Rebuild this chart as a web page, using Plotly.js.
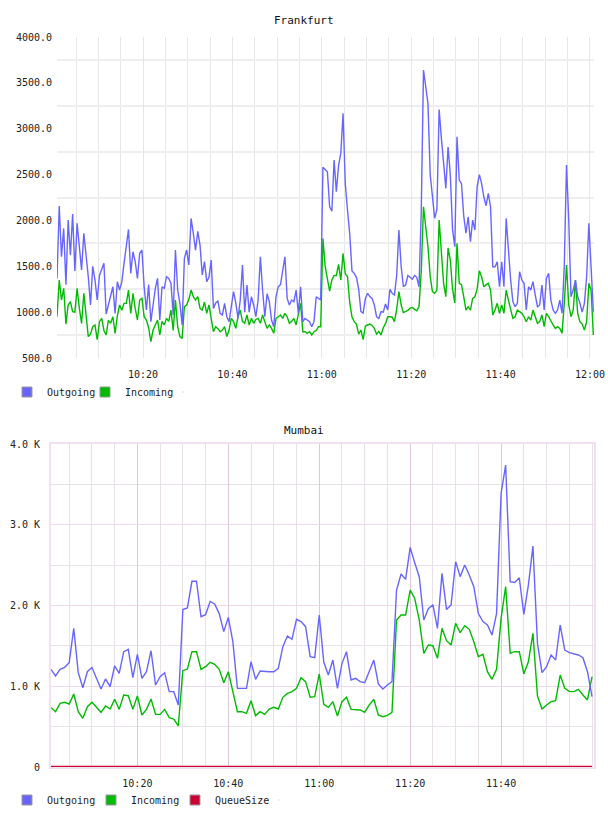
<!DOCTYPE html>
<html>
<head>
<meta charset="utf-8">
<script src="https://cdn.plot.ly/plotly-3.0.1.min.js"></script>
<style>
  html, body { margin: 0; padding: 0; background: #ffffff; }
  #chart { width: 608px; height: 816px; }
</style>
</head>
<body>
<div id="chart"></div>
<script>
// ---------- Frankfurt: 30 s samples ----------
const fraStart = '2024-01-01 10:00:45';
const fraStepSec = 30;

const fraOutgoing = [
  1368, 2157, 1604, 1913, 1300, 2004, 1622, 2070, 1450, 1968,
  1713, 1459, 1859, 1650, 1386, 1078, 1500, 1350, 1132, 1400,
  1477, 1532, 980, 1078, 1205, 1277, 987, 1332, 1241, 1330,
  1532, 1695, 1902, 1423, 1659, 1550, 1368, 1641, 1677, 1277,
  1023, 1300, 896, 1078, 1259, 1368, 914, 1277, 1259, 1386,
  1368, 1314, 969, 1677, 1241, 1096, 860, 1586, 1677, 1514,
  2022, 1859,
  1677, 1880, 1731, 1405, 1550, 1332, 1380, 1568, 1041, 1100,
  1120, 987, 969, 1096, 950, 896, 1059, 1223, 1100, 932,
  1132, 1514, 1000, 1296, 1000, 1168, 1078, 950, 1132, 1604,
  1241, 950, 1200, 1114, 914, 841, 1168, 1277, 1300, 1459,
  1604, 1150, 1078, 1132, 1114, 1241, 987, 1277, 896, 932,
  914, 896, 841, 896, 1168, 1150, 1132, 2580,
  2549, 2530, 2150, 2100, 2658, 2313, 2600, 2731, 3167, 2400,
  2113, 1850, 1450, 1423, 1380, 1250, 1005, 990, 1150, 1205,
  1170, 1150, 1078, 950, 930, 1005, 1000, 1090, 1023, 1250,
  1205, 1187, 1400, 1895, 1500, 1277, 1296, 1400, 1380, 1360,
  1400, 1380, 1277, 2100, 3640, 3460, 3276, 2500, 2222, 2022,
  2120, 3210, 2900, 2658, 2350, 2800, 2500, 1900, 1713, 2912,
  2440, 2400, 2050,
  1860, 2040, 1768, 2004, 1895, 2367, 2500, 2404, 2258, 2160,
  2295, 2149, 1495, 1495, 1550, 1277, 1550, 1277, 2022, 1641,
  1350, 1114, 1059, 1096, 1441, 1350, 1314, 1023, 1277, 1241,
  1332, 1187, 1059, 1078, 1296, 1023, 1368, 1423, 1132, 1023,
  987, 1023, 1132, 987, 1500, 2604, 2000, 1168, 1241, 1350,
  1168, 1100, 1000, 1096, 1386, 1968, 1500, 1005
];

const fraIncoming = [
  950, 1350, 1132, 1259, 870, 1078, 1114, 1005, 1000, 1259,
  1041, 878, 1205, 950, 733, 760, 841, 860, 700, 896,
  932, 800, 751, 914, 878, 950, 769, 960, 1078, 1020,
  1096, 1096, 1241, 987, 1205, 1040, 914, 1132, 1150, 950,
  914, 830, 678, 805, 860, 914, 751, 900, 860, 932,
  900, 1023, 800, 1132, 841, 733, 714, 1059, 1078, 1140,
  1241, 1168,
  1132, 1170, 1041, 1023, 1110, 987, 1080, 950, 787, 841,
  820, 787, 805, 841, 733, 805, 932, 896, 823, 950,
  1023, 896, 878, 969, 860, 932, 878, 920, 932, 878,
  969, 896, 823, 860, 823, 769, 932, 950, 969, 932,
  987, 950, 878, 900, 932, 860, 969, 1096, 787, 787,
  769, 787, 751, 787, 800, 841, 841, 1804,
  1500, 1370, 1230, 1350, 1400, 1400, 1520, 1350, 1640, 1420,
  1386, 1100, 950, 896, 870, 760, 805, 700, 850, 860,
  870, 855, 823, 760, 790, 751, 830, 875, 950, 950,
  945, 896, 1030, 1223, 1080, 995, 1005, 1020, 1045, 1050,
  1030, 1015, 1060, 1450, 2149, 1950, 1713, 1390, 1223, 1205,
  1240, 2004, 1700, 1314, 1168, 1700, 1568, 1250, 1100, 1750,
  1314, 1300, 1168,
  1023, 1059, 1023, 1150, 1168, 1250, 1450, 1386, 1277, 1300,
  1314, 1241, 969, 1023, 1096, 987, 1080, 987, 1241, 1132,
  1023, 932, 950, 1023, 1005, 987, 950, 896, 950, 914,
  1023, 950, 878, 896, 969, 841, 987, 950, 896, 860,
  823, 841, 823, 769, 1096, 1514, 1078, 950, 1023, 1350,
  987, 896, 870, 805, 896, 1314, 1241, 751
];

const fraTickVals = [500, 1000, 1500, 2000, 2500, 3000, 3500, 4000];
const fraTickText = ['500.0', '1000.0', '1500.0', '2000.0', '2500.0', '3000.0', '3500.0', '4000.0'];
const fraGridVals = [750, 1250, 1750, 2250, 2750, 3250, 3750];

// ---------- Mumbai: 1 min samples ----------
const mumStart = '2024-01-01 10:01:00';
const mumStepSec = 60;

const mumOutgoing = [
  1209, 1127, 1209, 1234, 1292, 1717, 1168, 982, 1180, 1234,
  1098, 966, 1090, 995, 1251, 1160, 1428, 1457, 1106, 1395,
  1098, 1180, 1440, 1015, 1119, 1168, 933, 933, 768, 1950,
  1970, 2300, 2300, 1861, 1886, 2050, 2020, 1900, 1676, 1853,
  1552, 974, 974, 974, 1304, 1086, 1189, 1180, 1180, 1180,
  1222, 1490, 1622, 1581, 1828, 1800, 1738, 1366, 1354, 1882,
  1300, 1139, 1325, 974, 1284, 1428, 1077, 1098, 1057, 1044,
  1180, 1325, 1028, 966, 1015, 1057, 2191, 2390, 2323, 2720,
  2530, 2357, 1820, 1960, 2010, 1717, 2398, 1950, 2006, 2542,
  2357, 2501, 2377, 2233, 1900, 1800, 1758, 1634, 1900, 3388,
  3739, 2295, 2286, 2344, 1890, 2253, 2736, 1531, 1168, 1242,
  1387, 1325, 1758, 1449, 1416, 1399, 1387, 1354, 1180, 871
];

const mumIncoming = [
  735, 685, 788, 801, 780, 904, 685, 603, 747, 801,
  739, 677, 755, 718, 838, 714, 892, 883, 714, 879,
  644, 714, 842, 652, 652, 714, 611, 594, 508, 1193,
  1213, 1428, 1428, 1209, 1242, 1296, 1271, 1209, 1044, 1180,
  933, 685, 685, 665, 821, 636, 685, 652, 718, 739,
  718, 863, 912, 933, 974, 1106, 1057, 863, 871, 1152,
  776, 739, 809, 632, 809, 863, 714, 714, 706, 677,
  768, 838, 644, 623, 640, 677, 1820, 1882, 1882, 2191,
  2088, 1820, 1407, 1511, 1502, 1346, 1717, 1564, 1511, 1779,
  1663, 1750, 1705, 1552, 1366, 1395, 1180, 1086, 1209, 1841,
  2233, 1407, 1428, 1428, 1152, 1304, 1655, 879, 718, 768,
  809, 821, 1139, 974, 937, 933, 962, 892, 830, 1119
];

const mumQueueSize = [
  0, 0, 0, 0, 0, 0, 0, 0, 0, 0, 0, 0, 0, 0, 0, 0, 0, 0, 0, 0,
  0, 0, 0, 0, 0, 0, 0, 0, 0, 0, 0, 0, 0, 0, 0, 0, 0, 0, 0, 0,
  0, 0, 0, 0, 0, 0, 0, 0, 0, 0, 0, 0, 0, 0, 0, 0, 0, 0, 0, 0,
  0, 0, 0, 0, 0, 0, 0, 0, 0, 0, 0, 0, 0, 0, 0, 0, 0, 0, 0, 0,
  0, 0, 0, 0, 0, 0, 0, 0, 0, 0, 0, 0, 0, 0, 0, 0, 0, 0, 0, 0,
  0, 0, 0, 0, 0, 0, 0, 0, 0, 0, 0, 0, 0, 0, 0, 0, 0, 0, 0, 0
];

const mumTickVals = [0, 1000, 2000, 3000, 4000];
const mumTickText = ['0', '1.0 K', '2.0 K', '3.0 K', '4.0 K'];
const mumGridVals = [500, 1500, 2500, 3500];
const mumTimeTicks = ['2024-01-01 10:20', '2024-01-01 10:40', '2024-01-01 11:00',
                      '2024-01-01 11:20', '2024-01-01 11:40'];

// ---------- helpers ----------
function pad(n) { return (n < 10 ? '0' : '') + n; }
function sampleTimes(start, stepSec, count) {
  const parts = start.split(' ');
  const hms = parts[1].split(':').map(Number);
  const base = hms[0] * 3600 + hms[1] * 60 + hms[2];
  const out = [];
  for (let i = 0; i < count; i++) {
    const s = base + i * stepSec;
    out.push(parts[0] + ' ' + pad(Math.floor(s / 3600)) + ':' +
             pad(Math.floor((s % 3600) / 60)) + ':' + pad(s % 60));
  }
  return out;
}

const COLOR_OUT = '#6666ff';
const COLOR_IN = '#00bb00';
const COLOR_Q = '#cc0033';
const FONT = { family: 'DejaVu Sans Mono, monospace', size: 10, color: '#222222' };

const fraTimes = sampleTimes(fraStart, fraStepSec, fraOutgoing.length);
const mumTimes = sampleTimes(mumStart, mumStepSec, mumOutgoing.length);

function lineTrace(x, y, name, color, xa, ya, width) {
  return { type: 'scatter', mode: 'lines', x: x, y: y, name: name,
           xaxis: xa, yaxis: ya, showlegend: false, hoverinfo: 'skip',
           line: { color: color, width: width || 1.4 } };
}
// square colour keys shown in the legends
function legendSwatch(name, color, xa, ya, legendId) {
  return { type: 'scatter', mode: 'markers', x: [null], y: [null], name: name,
           xaxis: xa, yaxis: ya, legend: legendId, showlegend: true, hoverinfo: 'skip',
           marker: { symbol: 'square', size: 10, color: color,
                     line: { color: '#999999', width: 1 } } };
}
// empty trailing slot so the last legend label has room to finish
function legendSpacer(xa, ya, legendId) {
  return { type: 'scatter', mode: 'markers', x: [null], y: [null], name: ' ',
           xaxis: xa, yaxis: ya, legend: legendId, showlegend: true, hoverinfo: 'skip',
           marker: { size: 1, opacity: 0 } };
}

const traces = [
  lineTrace(fraTimes, fraIncoming, 'Incoming', COLOR_IN, 'x', 'y'),
  lineTrace(fraTimes, fraOutgoing, 'Outgoing', COLOR_OUT, 'x', 'y'),
  lineTrace(mumTimes, mumIncoming, 'Incoming', COLOR_IN, 'x2', 'y2'),
  lineTrace(mumTimes, mumOutgoing, 'Outgoing', COLOR_OUT, 'x2', 'y2'),
  lineTrace(mumTimes, mumQueueSize, 'QueueSize', COLOR_Q, 'x2', 'y2', 2.5),
  legendSwatch('Outgoing', COLOR_OUT, 'x', 'y', 'legend'),
  legendSwatch('Incoming', COLOR_IN, 'x', 'y', 'legend'),
  legendSpacer('x', 'y', 'legend'),
  legendSwatch('Outgoing', COLOR_OUT, 'x2', 'y2', 'legend2'),
  legendSwatch('Incoming', COLOR_IN, 'x2', 'y2', 'legend2'),
  legendSwatch('QueueSize', COLOR_Q, 'x2', 'y2', 'legend2'),
  legendSpacer('x2', 'y2', 'legend2')
];

const W = 608, H = 816;
const layout = {
  width: W, height: H,
  margin: { l: 0, r: 0, t: 0, b: 0 },
  paper_bgcolor: '#ffffff', plot_bgcolor: '#ffffff',
  font: FONT,
  showlegend: true,
  xaxis: {
    domain: [57 / W, 594 / W], anchor: 'y', type: 'date',
    range: ['2024-01-01 10:00:45', '2024-01-01 12:00:54'],
    tickmode: 'linear', tick0: '2024-01-01 10:00:00', dtick: 1200000,
    tickformat: '%H:%M', ticks: '', ticklabelstandoff: 9,
    showgrid: true, gridcolor: '#e6e6e6', gridwidth: 1,
    minor: { tickmode: 'linear', tick0: '2024-01-01 10:00:00', dtick: 300000,
             showgrid: true, gridcolor: '#e6e6e6', gridwidth: 1 },
    zeroline: false, showline: false, fixedrange: true
  },
  yaxis: {
    domain: [(H - 358) / H, (H - 37) / H], anchor: 'x',
    range: [500, 4000], tickmode: 'array', tickvals: fraTickVals, ticktext: fraTickText,
    ticks: '', ticklabelstandoff: 4, showgrid: false,
    minor: { tickmode: 'array', tickvals: fraGridVals, showgrid: true,
             gridcolor: '#eeeeee', gridwidth: 2 },
    zeroline: false, showline: false, fixedrange: true
  },
  xaxis2: {
    domain: [51 / W, 594 / W], anchor: 'y2', type: 'date',
    range: ['2024-01-01 10:01:00', '2024-01-01 12:00:26'],
    tickmode: 'array', tickvals: mumTimeTicks,
    tickformat: '%H:%M', ticks: '', ticklabelstandoff: 6,
    showgrid: true, gridcolor: '#dcc8dc', gridwidth: 1,
    minor: { tickmode: 'linear', tick0: '2024-01-01 10:00:00', dtick: 300000,
             showgrid: true, gridcolor: '#e8e2e8', gridwidth: 1 },
    zeroline: false, showline: true, mirror: true, linecolor: '#f0e0f0', linewidth: 2,
    fixedrange: true
  },
  yaxis2: {
    domain: [(H - 767) / H, (H - 444) / H], anchor: 'x2',
    range: [0, 4000], tickmode: 'array', tickvals: mumTickVals, ticktext: mumTickText,
    ticks: '', ticklabelstandoff: 7,
    showgrid: true, gridcolor: '#eed8ee', gridwidth: 1,
    minor: { tickmode: 'array', tickvals: mumGridVals, showgrid: true,
             gridcolor: '#e8e2e8', gridwidth: 1 },
    zeroline: false, showline: true, mirror: true, linecolor: '#f0e0f0', linewidth: 2,
    fixedrange: true
  },
  legend: {
    orientation: 'h', x: 7 / W, xanchor: 'left', y: 1 - 392 / H, yanchor: 'middle',
    entrywidth: 33, entrywidthmode: 'pixels',
    bgcolor: 'rgba(0,0,0,0)', borderwidth: 0, font: FONT,
    itemclick: false, itemdoubleclick: false
  },
  legend2: {
    orientation: 'h', x: 7 / W, xanchor: 'left', y: 1 - 800 / H, yanchor: 'middle',
    entrywidth: 39, entrywidthmode: 'pixels',
    bgcolor: 'rgba(0,0,0,0)', borderwidth: 0, font: FONT,
    itemclick: false, itemdoubleclick: false
  },
  annotations: [
    { text: 'Frankfurt', xref: 'paper', yref: 'paper', x: 304 / W, y: 1 - 20 / H,
      xanchor: 'center', yanchor: 'middle', showarrow: false,
      font: { family: FONT.family, size: 11, color: '#111111' } },
    { text: 'Mumbai', xref: 'paper', yref: 'paper', x: 304 / W, y: 1 - 430 / H,
      xanchor: 'center', yanchor: 'middle', showarrow: false,
      font: { family: FONT.family, size: 11, color: '#111111' } }
  ]
};

Plotly.newPlot('chart', traces, layout, { staticPlot: true, displayModeBar: false });
</script>
</body>
</html>
